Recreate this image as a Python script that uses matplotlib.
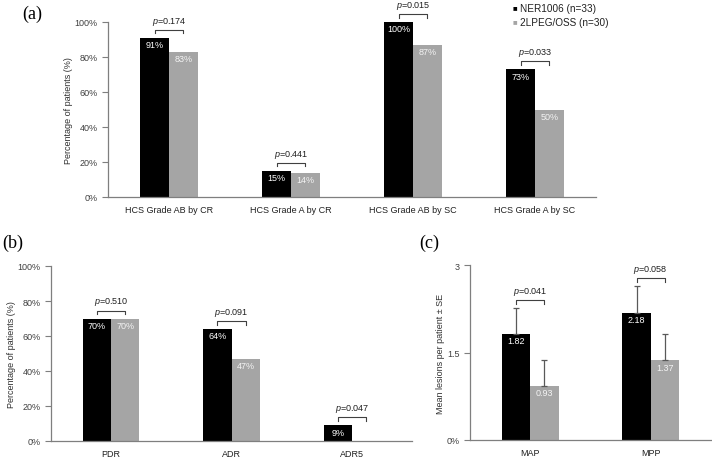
import numpy as np
import matplotlib
matplotlib.use("Agg")
import matplotlib.pyplot as plt

plt.rcParams["font.family"] = ["Liberation Sans", "DejaVu Sans"]
plt.rcParams["mathtext.fontset"] = "custom"
plt.rcParams["mathtext.it"] = "Liberation Sans:italic"
plt.rcParams["mathtext.rm"] = "Liberation Sans"

# panel (a)
cats_a = ["HCS Grade AB by CR", "HCS Grade A by CR", "HCS Grade AB by SC", "HCS Grade A by SC"]
ner_a = [91, 15, 100, 73]
peg_a = [83, 14, 87, 50]
p_a = ["0.174", "0.441", "0.015", "0.033"]

# panel (b)
cats_b = ["PDR", "ADR", "ADR5"]
ner_b = [70, 64, 9]
peg_b = [70, 47, 0]
p_b = ["0.510", "0.091", "0.047"]

# panel (c)
cats_c = ["MAP", "MPP"]
ner_c = [1.82, 2.18]
peg_c = [0.93, 1.37]
ner_c_se = [0.44, 0.46]
peg_c_se = [0.44, 0.45]
p_c = ["0.041", "0.058"]

BLACK = "#000000"
GREY = "#a5a5a5"
AXC = "#7f7f7f"
W = 0.235
FS = 6.5

fig = plt.figure(figsize=(7.12, 4.6), dpi=100)
ax_a = fig.add_axes([108 / 712, 1 - 198 / 460, 488 / 712, 175 / 460])
ax_b = fig.add_axes([51 / 712, 1 - 442 / 460, 361 / 712, 175 / 460])
ax_c = fig.add_axes([470 / 712, 1 - 441 / 460, 241 / 712, 175 / 460])


def style(ax, ymax, ticks, ticklabels, ylabel):
    for s in ["top", "right"]:
        ax.spines[s].set_visible(False)
    for s in ["left", "bottom"]:
        ax.spines[s].set_color(AXC)
        ax.spines[s].set_linewidth(0.9)
    ax.set_ylim(0, ymax)
    ax.set_yticks(ticks)
    ax.set_yticklabels(ticklabels)
    ax.tick_params(axis="y", length=4, width=0.8, color=AXC, labelsize=FS, labelcolor="#404040")
    ax.tick_params(axis="x", length=0, labelsize=FS, pad=6, labelcolor="#202020")
    ax.set_ylabel(ylabel, fontsize=FS, color="#303030", labelpad=1)


def draw(ax, cats, ner, peg, pvals, ymax, fmt, errs=None):
    x = np.arange(len(cats))
    px = ymax / 175.0
    if errs is None:
        ax.bar(x - W / 2, ner, W, color=BLACK)
        ax.bar(x + W / 2, peg, W, color=GREY)
        tops = [max(a, b) for a, b in zip(ner, peg)]
    else:
        ek = dict(ecolor="#595959", elinewidth=0.9, capsize=2.5, capthick=0.9)
        ax.bar(x - W / 2, ner, W, color=BLACK,
               yerr=[np.zeros(len(ner)), errs[0]], error_kw=ek)
        ax.bar(x + W / 2, peg, W, color=GREY,
               yerr=[np.zeros(len(peg)), errs[1]], error_kw=ek)
        tops = [max(a + ea, b + eb) for a, b, ea, eb in zip(ner, peg, errs[0], errs[1])]
    for i in range(len(cats)):
        if ner[i] > 0:
            ax.text(x[i] - W / 2, ner[i] - 7 * px, fmt(ner[i]), color="white",
                    ha="center", va="center", fontsize=FS)
        if peg[i] > 0:
            ax.text(x[i] + W / 2, peg[i] - 7 * px, fmt(peg[i]), color="#f4f4f4",
                    ha="center", va="center", fontsize=FS)
        h = tops[i] + 8 * px
        x1, x2 = x[i] - W / 2, x[i] + W / 2
        ax.plot([x1, x1, x2, x2], [h - 3.5 * px, h, h, h - 3.5 * px],
                color="#404040", lw=0.8, clip_on=False)
        ax.text(x[i], h + 3 * px, r"$\it{p}$=" + pvals[i], ha="center", va="bottom",
                fontsize=FS, color="#202020")
    ax.set_xticks(x)
    ax.set_xticklabels(cats)
    ax.set_xlim(-0.5, len(cats) - 0.5)


pct = lambda v: "%d%%" % v
draw(ax_a, cats_a, ner_a, peg_a, p_a, 100, pct)
style(ax_a, 100, [0, 20, 40, 60, 80, 100], ["0%", "20%", "40%", "60%", "80%", "100%"],
      "Percentage of patients (%)")

draw(ax_b, cats_b, ner_b, peg_b, p_b, 100, pct)
style(ax_b, 100, [0, 20, 40, 60, 80, 100], ["0%", "20%", "40%", "60%", "80%", "100%"],
      "Percentage of patients (%)")

draw(ax_c, cats_c, ner_c, peg_c, p_c, 3, lambda v: "%.2f" % v, errs=(ner_c_se, peg_c_se))
style(ax_c, 3, [0, 1.5, 3], ["0%", "1.5", "3"], "Mean lesions per patient \u00b1 SE")

# legend
fig.text(513 / 712, 1 - 9 / 460, "\u25a0", color=BLACK, fontsize=5.5, va="center")
fig.text(520 / 712, 1 - 9 / 460, "NER1006 (n=33)", fontsize=7.2, va="center", color="#202020")
fig.text(513 / 712, 1 - 23 / 460, "\u25a0", color=GREY, fontsize=5.5, va="center")
fig.text(520 / 712, 1 - 23 / 460, "2LPEG/OSS (n=30)", fontsize=7.2, va="center", color="#202020")

for lab, xx, yy in [("(a)", 22, 14), ("(b)", 2, 243), ("(c)", 419, 243)]:
    fig.text(xx / 712, 1 - yy / 460, lab, fontsize=13, va="center",
             family=["Liberation Serif", "DejaVu Serif"])

fig.savefig("out.png", dpi=100)
